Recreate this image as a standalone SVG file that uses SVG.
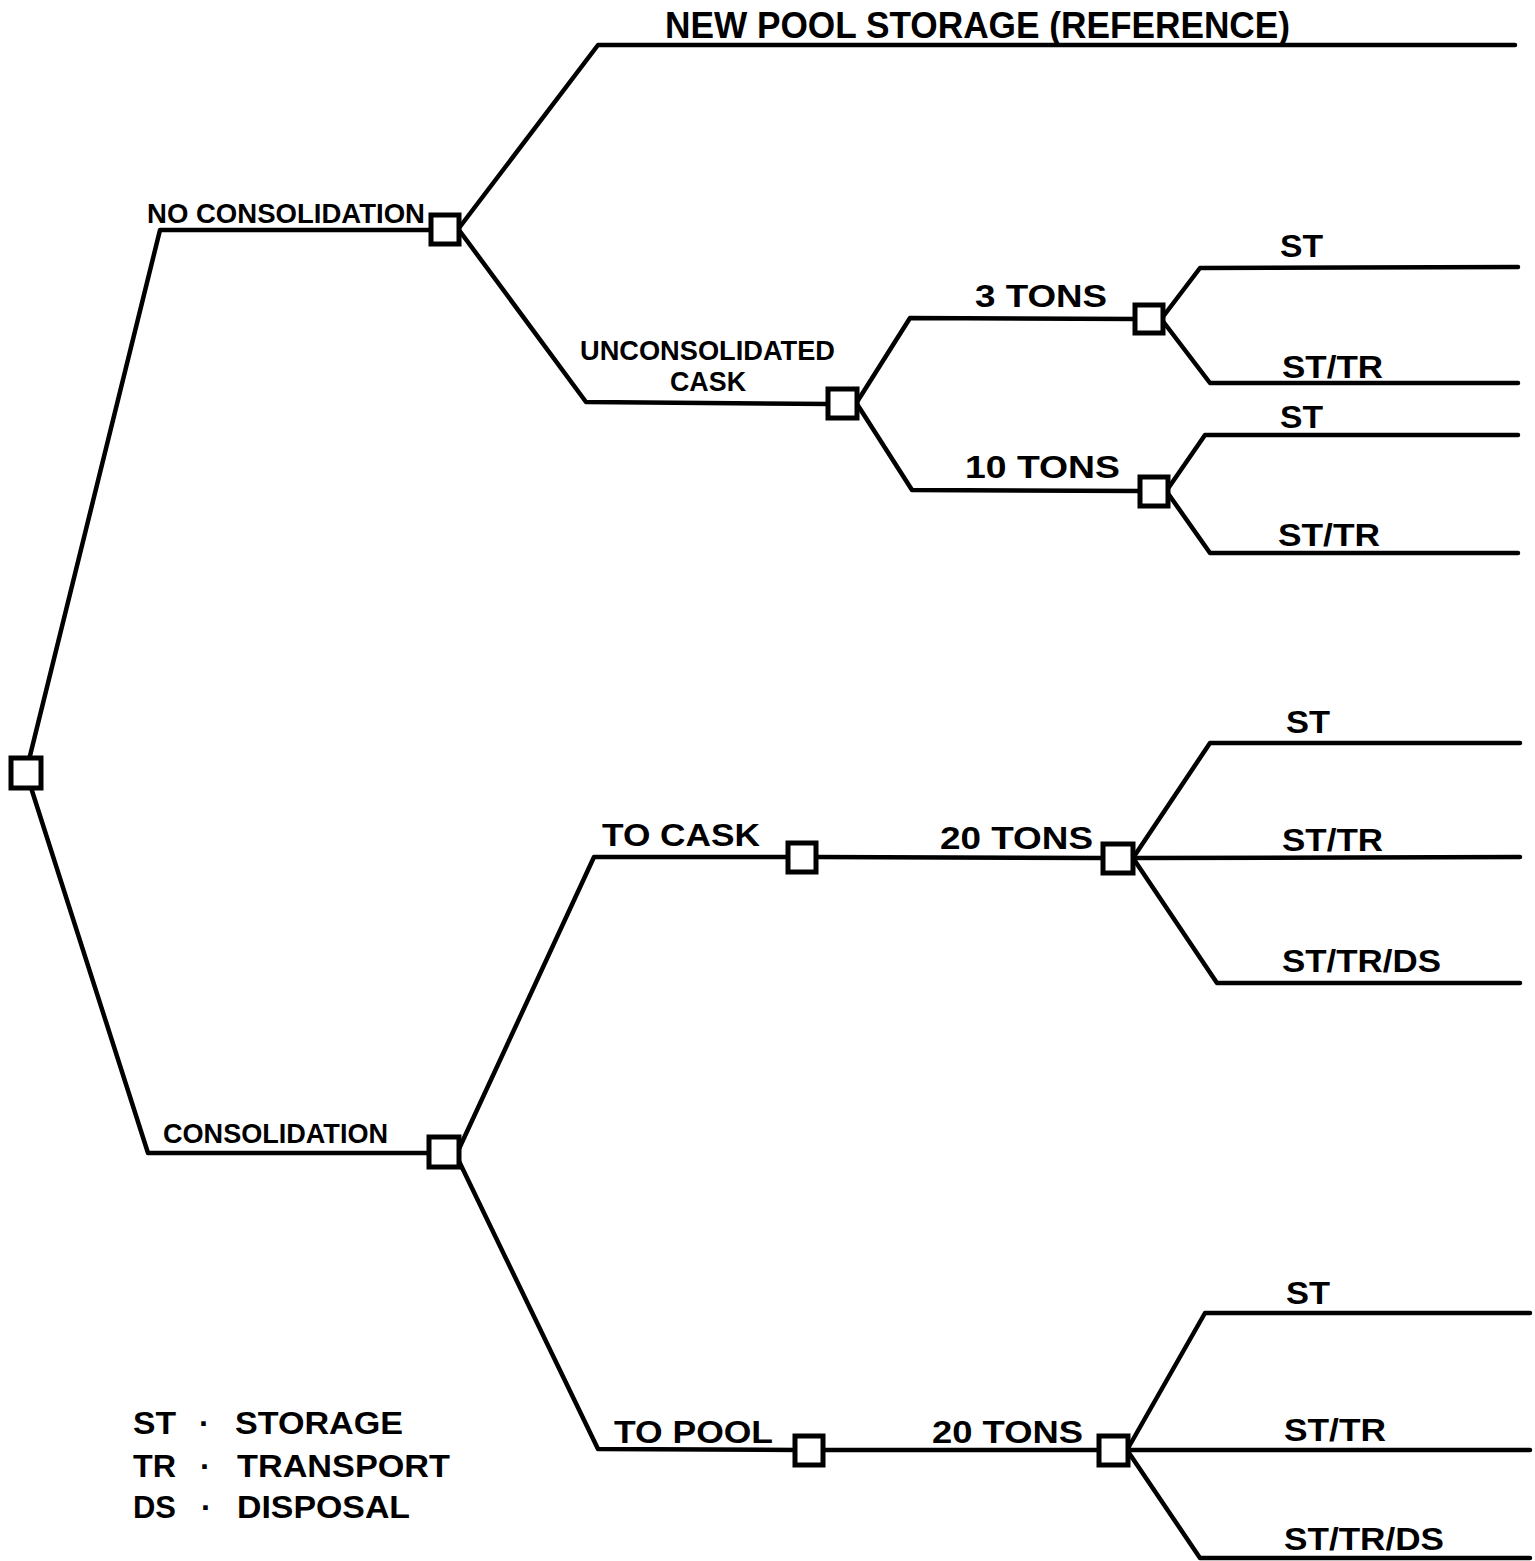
<svg xmlns="http://www.w3.org/2000/svg" width="1535" height="1561" viewBox="0 0 1535 1561">
<style>
.c{fill:none;stroke:#000;stroke-width:4.5;stroke-linejoin:round;stroke-linecap:round}
.n{fill:#fff;stroke:#000;stroke-width:5}
text{font-family:"Liberation Sans",Arial,sans-serif;fill:#000;font-weight:bold}
.l{font-size:36px}
.m{font-size:32px}
.s{font-size:28px}
</style>
<rect width="1535" height="1561" fill="#fff"/>
<g id="connectors">
<polyline class="c" points="26,772 160,230 432,230"/>
<polyline class="c" points="26,772 148,1153 430,1153"/>
<polyline class="c" points="459,228 598,45 1515,45"/>
<polyline class="c" points="459,230 586,402 830,404"/>
<polyline class="c" points="857,402 910,318 1136,319"/>
<polyline class="c" points="857,404 912,490 1141,491"/>
<polyline class="c" points="1162,318 1200,268 1518,267"/>
<polyline class="c" points="1162,320 1210,383 1518,383"/>
<polyline class="c" points="1167,490 1205,435 1518,435"/>
<polyline class="c" points="1167,492 1210,553 1518,553"/>
<polyline class="c" points="458,1151 594,857 789,857"/>
<line class="c" x1="815" y1="857" x2="1104" y2="858"/>
<polyline class="c" points="1133,858 1210,743 1520,743"/>
<line class="c" x1="1133" y1="858" x2="1520" y2="857"/>
<polyline class="c" points="1133,858 1217,983 1520,983"/>
<polyline class="c" points="456,1155 598,1449 797,1450"/>
<line class="c" x1="822" y1="1450" x2="1100" y2="1450"/>
<polyline class="c" points="1127,1450 1205,1313 1530,1313"/>
<line class="c" x1="1127" y1="1450" x2="1530" y2="1450"/>
<polyline class="c" points="1127,1450 1200,1558 1530,1558"/>
</g>
<g id="root"><rect class="n" x="11" y="758" width="30" height="30"/></g>
<g id="no-consolidation"><rect class="n" x="431" y="215" width="28" height="29"/>
<text class="s" x="147" y="223" textLength="278" lengthAdjust="spacingAndGlyphs">NO CONSOLIDATION</text></g>
<g id="new-pool"><text class="l" x="665" y="38" textLength="625" lengthAdjust="spacingAndGlyphs">NEW POOL STORAGE (REFERENCE)</text></g>
<g id="unconsolidated-cask"><rect class="n" x="828" y="389" width="29" height="29"/>
<text class="s" x="580" y="360" textLength="255" lengthAdjust="spacingAndGlyphs">UNCONSOLIDATED</text>
<text class="s" x="670" y="391" textLength="76" lengthAdjust="spacingAndGlyphs">CASK</text></g>
<g id="tons3"><rect class="n" x="1135" y="305" width="28" height="28"/>
<text class="m" x="975" y="307" textLength="132" lengthAdjust="spacingAndGlyphs">3 TONS</text>
<text class="m" x="1280" y="257" textLength="43" lengthAdjust="spacingAndGlyphs">ST</text>
<text class="m" x="1282" y="378" textLength="101" lengthAdjust="spacingAndGlyphs">ST/TR</text></g>
<g id="tons10"><rect class="n" x="1140" y="477" width="28" height="29"/>
<text class="m" x="965" y="478" textLength="155" lengthAdjust="spacingAndGlyphs">10 TONS</text>
<text class="m" x="1280" y="428" textLength="43" lengthAdjust="spacingAndGlyphs">ST</text>
<text class="m" x="1278" y="546" textLength="102" lengthAdjust="spacingAndGlyphs">ST/TR</text></g>
<g id="consolidation"><rect class="n" x="429" y="1137" width="30" height="30"/>
<text class="s" x="163" y="1143" textLength="225" lengthAdjust="spacingAndGlyphs">CONSOLIDATION</text></g>
<g id="to-cask"><rect class="n" x="788" y="843" width="28" height="29"/>
<text class="m" x="602" y="846" textLength="158" lengthAdjust="spacingAndGlyphs">TO CASK</text></g>
<g id="cask-20-tons"><rect class="n" x="1103" y="844" width="30" height="29"/>
<text class="m" x="940" y="849" textLength="153" lengthAdjust="spacingAndGlyphs">20 TONS</text>
<text class="m" x="1286" y="733" textLength="44" lengthAdjust="spacingAndGlyphs">ST</text>
<text class="m" x="1282" y="851" textLength="101" lengthAdjust="spacingAndGlyphs">ST/TR</text>
<text class="m" x="1282" y="972" textLength="159" lengthAdjust="spacingAndGlyphs">ST/TR/DS</text></g>
<g id="to-pool"><rect class="n" x="795" y="1436" width="28" height="29"/>
<text class="m" x="614" y="1443" textLength="159" lengthAdjust="spacingAndGlyphs">TO POOL</text></g>
<g id="pool-20-tons"><rect class="n" x="1099" y="1436" width="29" height="29"/>
<text class="m" x="932" y="1443" textLength="151" lengthAdjust="spacingAndGlyphs">20 TONS</text>
<text class="m" x="1286" y="1304" textLength="44" lengthAdjust="spacingAndGlyphs">ST</text>
<text class="m" x="1284" y="1441" textLength="102" lengthAdjust="spacingAndGlyphs">ST/TR</text>
<text class="m" x="1284" y="1550" textLength="160" lengthAdjust="spacingAndGlyphs">ST/TR/DS</text></g>
<g id="legend">
<text class="m" x="133" y="1434" textLength="43" lengthAdjust="spacingAndGlyphs">ST</text><text class="m" x="199" y="1434">·</text><text class="m" x="235" y="1434" textLength="168" lengthAdjust="spacingAndGlyphs">STORAGE</text>
<text class="m" x="133" y="1477" textLength="43" lengthAdjust="spacingAndGlyphs">TR</text><text class="m" x="200" y="1477">·</text><text class="m" x="237" y="1477" textLength="213" lengthAdjust="spacingAndGlyphs">TRANSPORT</text>
<text class="m" x="133" y="1518" textLength="43" lengthAdjust="spacingAndGlyphs">DS</text><text class="m" x="201" y="1518">·</text><text class="m" x="237" y="1518" textLength="173" lengthAdjust="spacingAndGlyphs">DISPOSAL</text>
</g>
</svg>
